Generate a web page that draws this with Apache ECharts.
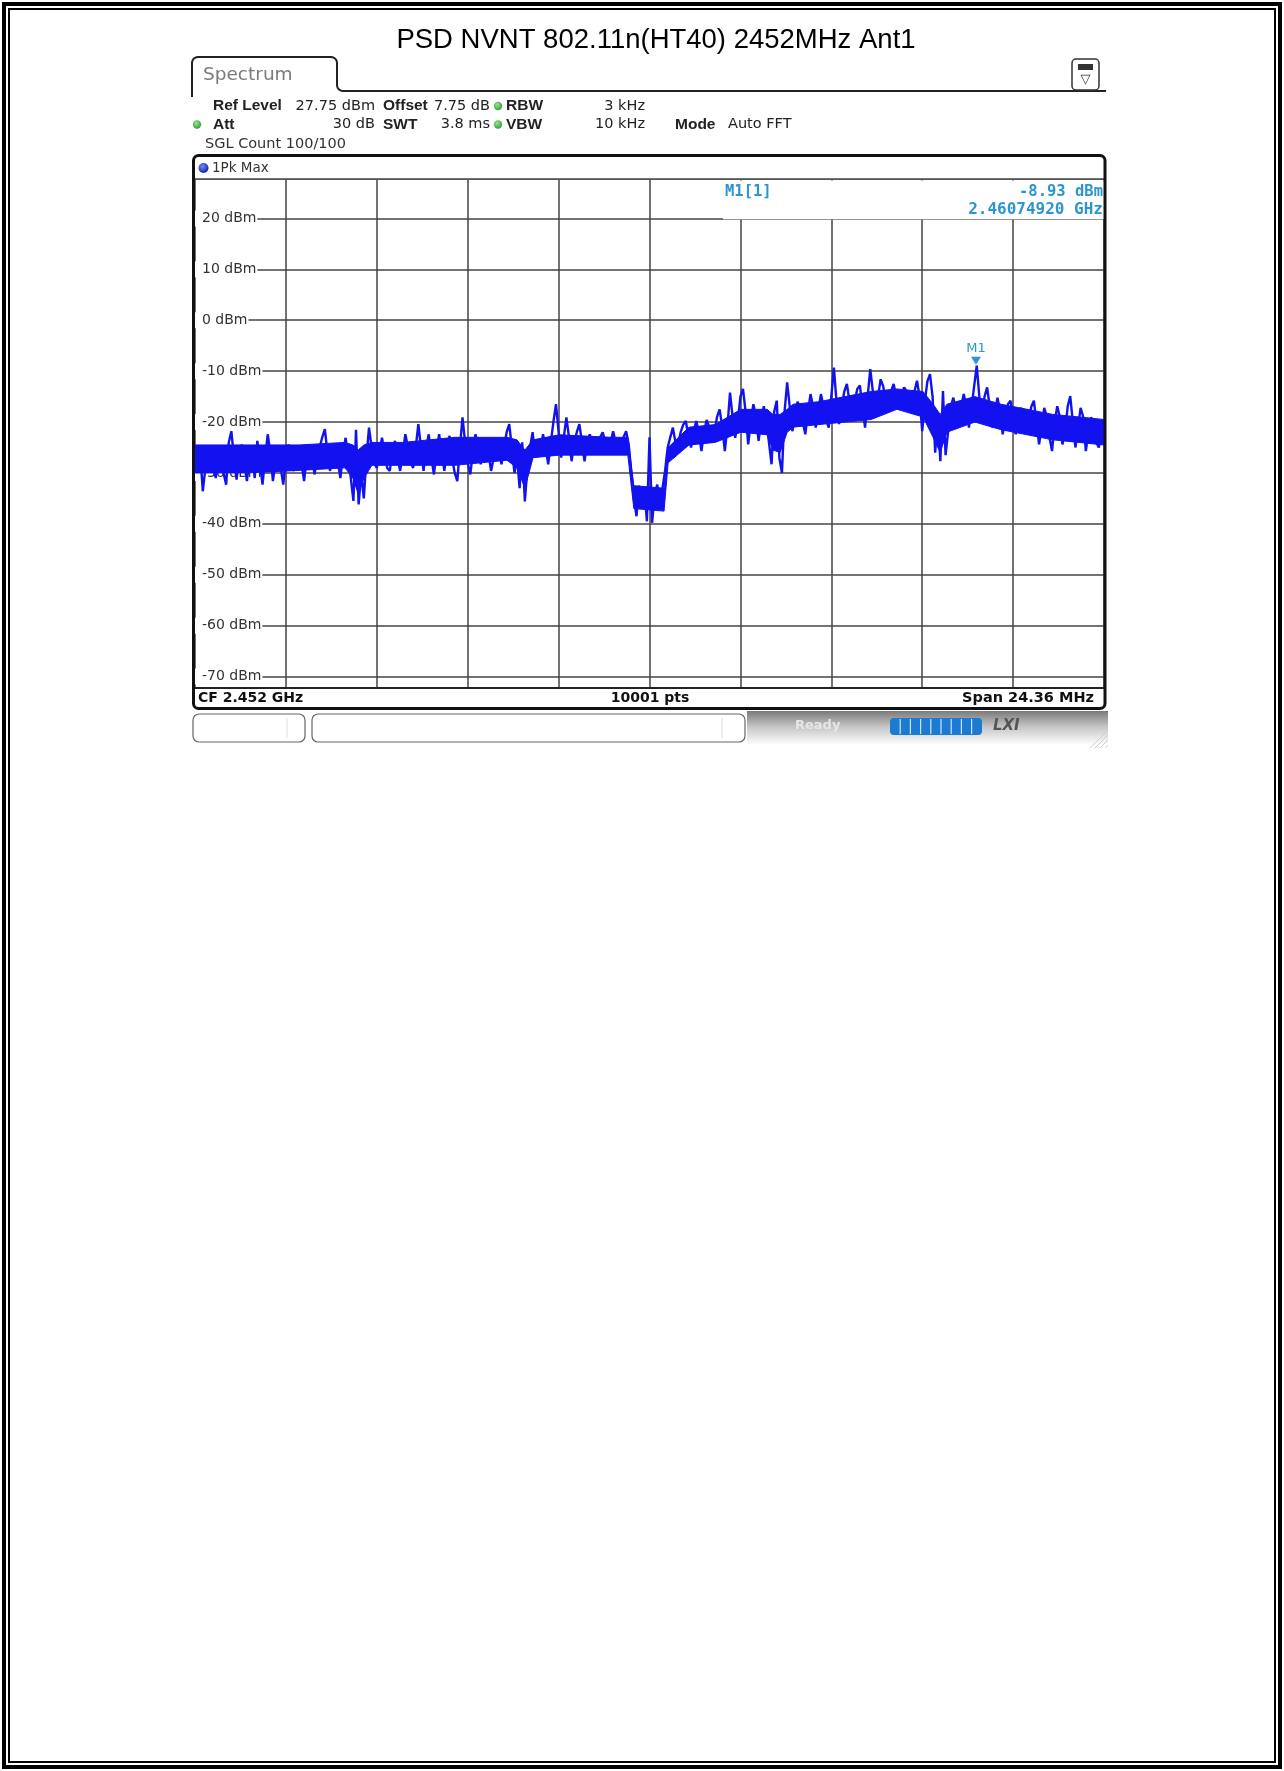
<!DOCTYPE html>
<html><head><meta charset="utf-8">
<script src="https://cdn.jsdelivr.net/npm/echarts@6/dist/echarts.min.js"></script>
<style>html,body{margin:0;padding:0;background:#fff;} #chart{width:1284px;height:1771px;}</style>
</head><body><div id="chart"></div><script>
// ---- data ----
const chartTitle = 'PSD NVNT 802.11n(HT40) 2452MHz Ant1';
const centerFreqLabel = 'CF 2.452 GHz';
const pointsLabel = '10001 pts';
const spanLabel = 'Span 24.36 MHz';
const spanMHz = 24.36;                 // x axis: offset from CF, -span/2 .. +span/2
const xDivisionMHz = 2.436;            // 10 divisions
const refLevelDbm = 27.75;             // top of the grid
const rangeDb = 100;                   // 10 dB/div
const levelTicksDbm = [20, 10, 0, -10, -20, -30, -40, -50, -60, -70];
const sweepStartMHz = -12.18;
const sweepStepMHz = 0.0696;           // 350 sweep steps across the span
// peak trace (1Pk Max), read every sweep step
const traceLevelDbm = [
 -27, -30, -26, -33.6, -29, -26.5, -25.7, -29, -31, -27,
 -26.3, -30, -32.3, -24, -21.8, -27, -31.3, -27, -24.4, -28,
 -31.6, -27, -25.7, -31, -23.7, -28, -32.3, -27, -22.4, -26,
 -31.6, -28, -25.7, -29, -32.3, -27, -24.4, -27.5, -29.6, -27,
 -25, -28, -31.6, -27, -24.4, -26, -30.3, -27.5, -25, -23,
 -21.4, -26, -29.6, -27, -25, -28, -31, -26, -23.1, -27,
 -31, -35.5, -21.5, -36.2, -30, -35, -27, -21.1, -25, -28,
 -29, -26, -23.1, -26, -29, -29.6, -26, -23.7, -27, -29.6,
 -26, -22.4, -25, -28, -29, -25, -20.4, -25, -29.6, -25,
 -22.4, -27, -30.3, -26, -22.4, -26, -29.6, -26, -22.7, -27,
 -30, -31.6, -25, -19.1, -24, -28, -30.3, -26, -22.4, -25,
 -28.3, -26, -23.1, -26, -29.6, -27, -23.7, -25, -28.3, -25,
 -22, -20.4, -25, -30, -27, -33, -24, -35.6, -29, -25,
 -22, -27, -24, -26, -22.4, -25, -28.3, -24, -20, -16.5,
 -22, -27, -23, -19.1, -23, -27.7, -24, -22, -20.4, -24,
 -27.7, -24, -22.4, -24, -26.4, -25, -23, -22, -24, -26.4,
 -24, -21.8, -24, -26, -25.7, -23, -21.8, -24.4, -30, -35,
 -38.5, -32.5, -37, -33, -39.5, -23, -39.8, -34, -32.3, -37,
 -33, -29.6, -25, -23, -21.1, -24, -24.4, -22, -20.5, -19.8,
 -23, -25, -22, -19.8, -22, -25.7, -22, -19.6, -21, -23.7,
 -22, -19, -17.5, -21, -25.7, -21, -14.2, -19, -23.1, -20,
 -15, -13.5, -18, -24.4, -20, -16.5, -19, -23.7, -20, -16.9,
 -20, -24, -28.3, -18, -15.8, -27, -30, -18, -12.2, -17,
 -21.8, -19, -16, -17.2, -20, -22.4, -18, -14.5, -17, -21.1,
 -18, -14.5, -17, -19.5, -21.1, -15, -9.3, -16, -20.4, -17,
 -14, -12.5, -16, -19.1, -16, -13.5, -12.8, -17, -21.1, -15,
 -9.6, -14, -19.1, -15, -11.6, -13, -16.5, -17.2, -14, -12.5,
 -15, -17.2, -15, -13.2, -14, -16, -16.5, -14, -11.9, -15,
 -21.8, -16, -12, -10.6, -15, -26, -19, -27.7, -13.9, -26.5,
 -21.8, -17, -15.2, -18, -21.1, -17, -14.5, -17, -21.1, -17,
 -13, -8.93, -15, -19.1, -15, -13.2, -17, -21.1, -18, -15.2,
 -18, -22.4, -19, -16.5, -15.8, -19, -22.4, -20, -17.2, -18.5,
 -22.4, -20, -17, -15.8, -20, -24.4, -21, -17.2, -19, -23,
 -25.7, -20, -16.9, -19, -24.4, -22, -17, -14.9, -20, -25,
 -21, -17.2, -19, -25.7, -22, -19.1, -20, -24, -25, -22,
 -21.1
];
// dense core of the trace (where the displayed band is solid)
const coreFreqMHz = [-12.18, -10.79, -9.39, -8.16, -7.95, -7.81, -7.65, -7.44, -6.61, -5.21,
  -3.82, -3.55, -3.34, -3.12, -2.42, -1.03, -0.58, -0.42, 0.39, 0.50,
  1.06, 1.76, 2.45, 3.15, 3.31, 3.50, 3.69, 3.85, 4.54, 5.24,
  5.94, 6.63, 7.33, 7.60, 7.79, 7.97, 8.72, 9.42, 10.12, 10.81,
  11.51, 12.18];
const coreHighDbm = [-24.5, -24.5, -24.5, -24, -24.5, -25.5, -24.5, -24, -24, -23,
  -23, -23.5, -25.5, -23.5, -22.5, -23, -23, -32.5, -33, -25,
  -21, -20.5, -17.5, -17.5, -18.5, -18.5, -17.5, -16.5, -16, -15,
  -14, -13.5, -14, -16.5, -18.5, -16.5, -15, -16.5, -17.5, -18.5,
  -19, -19.5];
const coreLowDbm = [-30, -30, -29.5, -29, -31, -34, -31, -28.5, -28.5, -28.5,
  -27.5, -29, -33, -27, -26.5, -26.5, -26.5, -37, -37.5, -28,
  -24.5, -24, -22, -22.5, -25.5, -26, -22, -21, -20.5, -20,
  -19.5, -17.5, -19, -23, -26, -22, -20, -21.5, -22.5, -23.5,
  -24, -24.5];
const markerName = 'M1';
const markerHeader = 'M1[1]';
const markerOffsetMHz = 8.7492;        // 2.46074920 GHz - 2.452 GHz
const markerLevelDbm = -8.93;
const markerLevelText = '-8.93 dBm';
const markerFreqText = '2.46074920 GHz';
const settingsRow1 = [['Ref Level', '27.75 dBm'], ['Offset', '7.75 dB'], ['RBW', '3 kHz']];
const settingsRow2 = [['Att', '30 dB'], ['SWT', '3.8 ms'], ['VBW', '10 kHz'], ['Mode', 'Auto FFT']];
const sweepCountText = 'SGL Count 100/100';
const traceLabel = '1Pk Max';
const tabLabel = 'Spectrum';

// ---- chart ----
const chart = echarts.init(document.getElementById('chart'), null, {renderer: 'canvas'});
const F = 'DejaVu Sans';
const traceData = traceLevelDbm.map((v, i) => [sweepStartMHz + i * sweepStepMHz, v]);
const markerBlue = '#2b95d3';
const traceBlue = '#1212f0';

function txt(text, x, y, font, fill, align, z) {
  return {type: 'text', z: z || 10, silent: true,
    style: {text: text, x: x, y: y, font: font, fill: fill, align: align || 'left', verticalAlign: 'middle'}};
}
function hline(x1, x2, y, color, w, z) {
  return {type: 'line', z: z || 10, silent: true, shape: {x1: x1, y1: y, x2: x2, y2: y}, style: {stroke: color, lineWidth: w}};
}
function dot(cx, cy, r, c1, c2) {
  return {type: 'circle', z: 10, silent: true, shape: {cx: cx, cy: cy, r: r},
    style: {fill: {type: 'radial', x: 0.4, y: 0.35, r: 0.7, colorStops: [{offset: 0, color: c1}, {offset: 1, color: c2}]}}};
}
function arcPts(cx, cy, r, a0, a1) {
  const pts = [];
  for (let k = 0; k <= 6; k++) {
    const a = a0 + (a1 - a0) * k / 6;
    pts.push([cx + r * Math.cos(a), cy + r * Math.sin(a)]);
  }
  return pts;
}
const tabPts = [[192, 97]]
  .concat(arcPts(198, 63, 6, Math.PI, 1.5 * Math.PI))
  .concat(arcPts(331, 63, 6, 1.5 * Math.PI, 2 * Math.PI))
  .concat(arcPts(343, 85, 6, Math.PI, 0.5 * Math.PI))
  .concat([[1106, 91]]);

const hdrB = 'bold 15.5px "Liberation Sans", Arial, sans-serif';
const hdrN = '14.5px "' + F + '"';
const r1 = 106, r2 = 124.5;
const graphics = [
  // page double border
  {type: 'rect', z: 10, silent: true, shape: {x: 4, y: 4, width: 1276, height: 1763}, style: {fill: 'none', stroke: '#000', lineWidth: 4}},
  {type: 'rect', z: 10, silent: true, shape: {x: 9, y: 9, width: 1266, height: 1753}, style: {fill: 'none', stroke: '#000', lineWidth: 2}},
  // title
  txt(chartTitle, 656, 40, '27.5px "Liberation Sans", Arial, sans-serif', '#000', 'center'),
  // tab
  {type: 'polyline', z: 10, silent: true, shape: {points: tabPts}, style: {fill: 'none', stroke: '#222', lineWidth: 2}},
  txt(tabLabel, 203, 75, '18.5px "' + F + '"', '#7a7a7a'),
  // top-right icon
  {type: 'rect', z: 10, silent: true, shape: {x: 1072, y: 59, width: 27, height: 31, r: 4}, style: {fill: '#fff', stroke: '#333', lineWidth: 1.5}},
  {type: 'rect', z: 11, silent: true, shape: {x: 1078, y: 64, width: 15, height: 6}, style: {fill: '#333'}},
  txt('\u25BD', 1085.5, 80, '13px "' + F + '"', '#333', 'center', 11),
  // settings rows
  txt(settingsRow1[0][0], 213, r1, hdrB, '#222'),
  txt(settingsRow1[0][1], 375, r1, hdrN, '#222', 'right'),
  txt(settingsRow1[1][0], 383, r1, hdrB, '#222'),
  txt(settingsRow1[1][1], 490, r1, hdrN, '#222', 'right'),
  dot(498, r1, 4.2, '#9be39b', '#2e9a2e'),
  txt(settingsRow1[2][0], 506, r1, hdrB, '#222'),
  txt(settingsRow1[2][1], 645, r1, hdrN, '#222', 'right'),
  dot(197, r2, 4.2, '#9be39b', '#2e9a2e'),
  txt(settingsRow2[0][0], 213, r2, hdrB, '#222'),
  txt(settingsRow2[0][1], 375, r2, hdrN, '#222', 'right'),
  txt(settingsRow2[1][0], 383, r2, hdrB, '#222'),
  txt(settingsRow2[1][1], 490, r2, hdrN, '#222', 'right'),
  dot(498, r2, 4.2, '#9be39b', '#2e9a2e'),
  txt(settingsRow2[2][0], 506, r2, hdrB, '#222'),
  txt(settingsRow2[2][1], 645, r2, hdrN, '#222', 'right'),
  txt(settingsRow2[3][0], 675, r2, hdrB, '#222'),
  txt(settingsRow2[3][1], 728, r2, hdrN, '#222'),
  txt(sweepCountText, 205, 144, hdrN, '#333'),
  // trace header row
  dot(203.5, 168, 5, '#6f8cff', '#0a1d9c'),
  txt(traceLabel, 212, 168, '13.5px "' + F + '"', '#333'),
  hline(195, 1105, 179.5, '#555', 1.2),
  // marker info box (covers grid lines)
  {type: 'rect', z: 1, silent: true, shape: {x: 723, y: 180.5, width: 382, height: 38.8}, style: {fill: '#fff'}},
  txt(markerHeader, 725, 192, 'bold 15.5px "DejaVu Sans Mono"', markerBlue),
  txt(markerLevelText, 1103, 192, 'bold 15.5px "DejaVu Sans Mono"', markerBlue, 'right'),
  txt(markerFreqText, 1103, 210, 'bold 16px "DejaVu Sans Mono"', markerBlue, 'right'),
  // bottom info row
  hline(195, 1105, 688, '#222', 2),
  txt(centerFreqLabel, 198, 698, 'bold 14px "' + F + '"', '#111'),
  txt(pointsLabel, 650, 698, 'bold 14px "' + F + '"', '#111', 'center'),
  txt(spanLabel, 1094, 698, 'bold 14.5px "' + F + '"', '#111', 'right'),
  // plot frame
  {type: 'rect', z: 10, silent: true, shape: {x: 193.5, y: 155.5, width: 911.5, height: 553, r: 5}, style: {fill: 'none', stroke: '#111', lineWidth: 3}},
  // status bar
  {type: 'rect', z: 10, silent: true, shape: {x: 193, y: 714, width: 112, height: 28, r: 6}, style: {fill: '#fff', stroke: '#666', lineWidth: 1.2}},
  {type: 'line', z: 10, silent: true, shape: {x1: 287, y1: 718, x2: 287, y2: 738}, style: {stroke: '#ddd', lineWidth: 1}},
  {type: 'rect', z: 10, silent: true, shape: {x: 312, y: 714, width: 433, height: 28, r: 6}, style: {fill: '#fff', stroke: '#666', lineWidth: 1.2}},
  {type: 'line', z: 10, silent: true, shape: {x1: 722, y1: 718, x2: 722, y2: 738}, style: {stroke: '#ddd', lineWidth: 1}},
  {type: 'rect', z: 9, silent: true, shape: {x: 747, y: 711, width: 361, height: 34},
    style: {fill: {type: 'linear', x: 0, y: 0, x2: 0, y2: 1, colorStops: [{offset: 0, color: '#7a7a7a'}, {offset: 0.45, color: '#c4c4c4'}, {offset: 1, color: '#ffffff'}]}}},
  txt('Ready', 795, 726, 'bold 13px "' + F + '"', '#e6e6e6'),
  {type: 'rect', z: 10, silent: true, shape: {x: 890, y: 718, width: 92, height: 17, r: 4}, style: {fill: '#1b7ad2'}},
  txt('LXI', 993, 726, 'italic bold 15px "' + F + '"', '#555')
];
for (let k = 1; k < 9; k++) {
  graphics.push({type: 'line', z: 11, silent: true, shape: {x1: 890 + k * 10.2, y1: 719, x2: 890 + k * 10.2, y2: 734}, style: {stroke: '#cfe4f7', lineWidth: 1.2}});
}
for (let k = 0; k < 4; k++) {
  graphics.push({type: 'line', z: 11, silent: true, shape: {x1: 1090 + k * 5, y1: 748, x2: 1108, y2: 730 + k * 5}, style: {stroke: '#d0d0d0', lineWidth: 1}});
}

const gridLine = {color: '#454545', width: 1.5};
chart.setOption({
  animation: false,
  backgroundColor: '#fff',
  grid: {left: 195, top: 179, width: 909, height: 509, containLabel: false},
  xAxis: {
    type: 'value', min: -spanMHz / 2, max: spanMHz / 2, interval: xDivisionMHz,
    axisLine: {show: false}, axisTick: {show: false}, axisLabel: {show: false},
    splitLine: {show: true, lineStyle: gridLine}
  },
  yAxis: {
    type: 'value', min: refLevelDbm - rangeDb, max: refLevelDbm, splitNumber: 10,
    axisLine: {show: false}, axisTick: {show: false},
    axisLabel: {
      inside: true, margin: 0, showMinLabel: false, showMaxLabel: false,
      fontFamily: F, fontSize: 14, color: '#333',
      backgroundColor: '#fff', padding: [1, 1, 1, 7],
      formatter: function (v) { return levelTicksDbm.indexOf(Math.round(v)) >= 0 && Math.abs(v - Math.round(v)) < 1e-6 ? Math.round(v) + ' dBm' : ''; }
    },
    splitLine: {show: true, lineStyle: gridLine}
  },
  series: [{
    type: 'custom', z: 2, silent: true, clip: true,
    data: [0],
    renderItem: function (params, api) {
      const pts = [];
      for (let k = 0; k < coreFreqMHz.length; k++) pts.push(api.coord([coreFreqMHz[k], coreHighDbm[k]]));
      for (let k = coreFreqMHz.length - 1; k >= 0; k--) pts.push(api.coord([coreFreqMHz[k], coreLowDbm[k]]));
      return {type: 'polygon', shape: {points: pts}, style: {fill: traceBlue, stroke: traceBlue, lineWidth: 1}};
    }
  }, {
    type: 'line', data: traceData, showSymbol: false, symbol: 'none', z: 3,
    lineStyle: {color: traceBlue, width: 2.4, join: 'bevel'}, itemStyle: {color: traceBlue},
    markPoint: {
      symbol: 'triangle', symbolRotate: 180, symbolSize: [10, 8], symbolOffset: [0, -5],
      itemStyle: {color: markerBlue},
      label: {show: true, position: 'top', distance: 2, formatter: markerName, color: markerBlue, fontFamily: F, fontSize: 13},
      data: [{coord: [markerOffsetMHz, markerLevelDbm]}]
    }
  }],
  graphic: {elements: graphics}
});
</script></body></html>
